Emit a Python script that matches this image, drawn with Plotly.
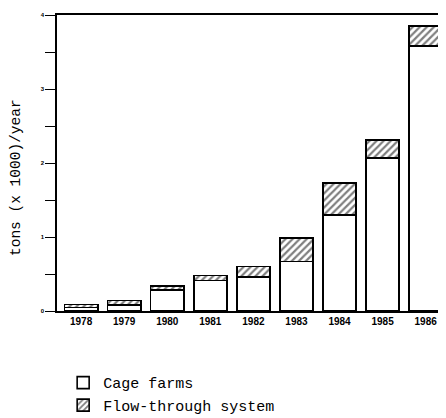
import plotly.graph_objects as go

years = ["1978", "1979", "1980", "1981", "1982", "1983", "1984", "1985", "1986"]
cage_farms = [0.05, 0.08, 0.28, 0.41, 0.46, 0.67, 1.30, 2.07, 3.58]
flow_through = [0.04, 0.06, 0.06, 0.07, 0.14, 0.32, 0.43, 0.24, 0.27]
y_tickvals = [0, 0.5, 1, 1.5, 2, 2.5, 3, 3.5, 4]
y_ticktext = ["0", "", "1", "", "2", "", "3", "", "4"]

fig = go.Figure()
fig.add_trace(go.Bar(
    x=years, y=cage_farms, name="Cage farms", legendgroup="a",
    marker=dict(color="white", line=dict(color="black", width=1.6)),
    width=0.77,
))
fig.add_trace(go.Bar(
    x=years, y=flow_through, name="Flow-through system", legendgroup="b",
    marker=dict(color="white", line=dict(color="black", width=1.6),
                pattern=dict(shape="/", fgcolor="black", bgcolor="white",
                             size=5, solidity=0.45)),
    width=0.77,
))

# page body has an 8px default margin, so the figure is 8px smaller
fig.update_layout(
    width=438, height=410,
    margin=dict(l=49, r=4, t=7, b=107, autoexpand=False),
    barmode="stack",
    plot_bgcolor="white", paper_bgcolor="white",
    showlegend=True,
    legend=dict(
        x=0.016, y=-0.187, xanchor="left", yanchor="top",
        traceorder="grouped", tracegroupgap=0,
        font=dict(family="Liberation Mono, Courier New, monospace", size=15, color="black"),
        bgcolor="rgba(0,0,0,0)",
    ),
    xaxis=dict(
        type="category", range=[-0.56, 8.38], automargin=False,
        showline=True, linecolor="black", linewidth=1.6, mirror=True,
        ticks="", showgrid=False,
        tickfont=dict(family="Liberation Sans, Arial, sans-serif", size=10, color="black", weight="bold"),
    ),
    yaxis=dict(
        range=[0, 4], automargin=False,
        showline=True, linecolor="black", linewidth=1.6, mirror=True,
        tickmode="array", tickvals=y_tickvals, ticktext=y_ticktext,
        ticks="outside", ticklen=10, tickwidth=1.2, tickcolor="black",
        showgrid=False, zeroline=False,
        tickfont=dict(family="Liberation Sans, Arial, sans-serif", size=6, color="black", weight="bold"),
    ),
    annotations=[dict(
        text="tons (x 1000)/year", textangle=-90,
        x=-0.106, y=0.45, xref="paper", yref="paper",
        xanchor="center", yanchor="middle",
        showarrow=False,
        font=dict(family="Liberation Mono, Courier New, monospace", size=14.5, color="black"),
    )],
)

fig.write_html("out.html")
